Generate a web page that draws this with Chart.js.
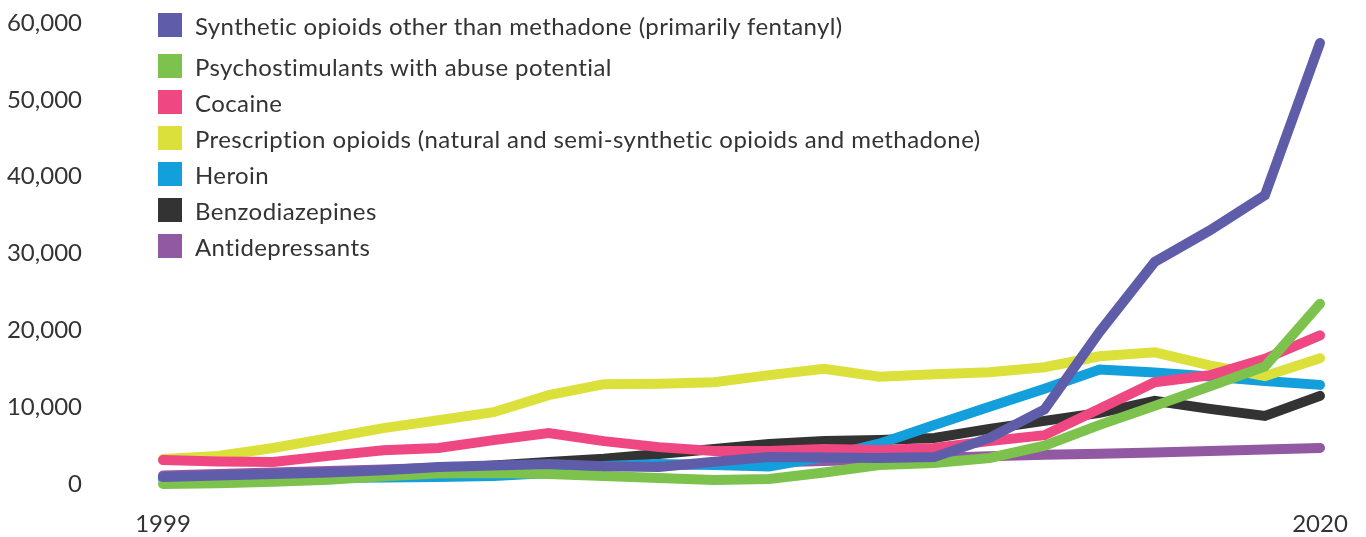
<!DOCTYPE html>
<html>
<head>
<meta charset="utf-8">
<script src="https://cdn.jsdelivr.net/npm/chart.js@4/dist/chart.umd.min.js"></script>
<style>
  body { margin: 0; background: #fff; }
  #wrap { position: relative; width: 1366px; height: 537px; }
  #chart { position: absolute; left: 0; top: 0; }
  #legend { position: absolute; left: 158px; top: 13px; font-family: Lato, sans-serif; font-size: 24px; letter-spacing: 0.4px; color: #333; }
  .item { display: flex; align-items: center; height: 24px; margin-bottom: 12px; white-space: nowrap; }
  .item:first-child { margin-bottom: 17px; }
  .swatch { width: 24px; height: 24px; margin-right: 13px; }
</style>
</head>
<body>
<div id="wrap">
  <canvas id="chart" width="1366" height="537"></canvas>
  <div id="legend"></div>
</div>
<script>
const years = ["1999", "2000", "2001", "2002", "2003", "2004", "2005", "2006", "2007", "2008", "2009",
  "2010", "2011", "2012", "2013", "2014", "2015", "2016", "2017", "2018", "2019", "2020"];

const syntheticOpioids = [910, 1110, 1300, 1500, 1800, 2200, 2400, 2600, 2300, 2200, 2900,
  3500, 3450, 3400, 3500, 6000, 9700, 19800, 28900, 33000, 37600, 57400];
const psychostimulants = [0, 100, 300, 560, 1000, 1370, 1430, 1300, 1040, 780, 520,
  650, 1500, 2480, 2740, 3390, 5000, 7700, 10170, 12720, 15290, 23470];
const cocaine = [3120, 2920, 2860, 3660, 4400, 4680, 5710, 6620, 5580, 4800, 4290,
  4290, 4550, 4420, 4680, 5580, 6360, 9800, 13250, 14150, 16300, 19350];
const prescriptionOpioids = [3250, 3640, 4680, 5970, 7270, 8300, 9350, 11560, 12990, 13050, 13250,
  14170, 15000, 13950, 14280, 14550, 15200, 16620, 17140, 15450, 14030, 16360];
const heroin = [650, 720, 780, 780, 850, 910, 1040, 1430, 2350, 2610, 2480,
  2280, 3520, 5250, 7690, 10040, 12390, 14900, 14500, 14000, 13400, 12900];
const benzodiazepines = [800, 950, 1100, 1300, 1500, 2000, 2400, 2870, 3300, 3910, 4560,
  5220, 5610, 5740, 6000, 7170, 8210, 9260, 10820, 9780, 8870, 11470];
const antidepressants = [1100, 1300, 1500, 1700, 1900, 2100, 2200, 2300, 2300, 2400, 2600,
  2800, 3000, 3200, 3400, 3600, 3800, 3950, 4100, 4300, 4500, 4700];

const yTicks = [0, 10000, 20000, 30000, 40000, 50000, 60000];

const series = [
  { label: "Synthetic opioids other than methadone (primarily fentanyl)", data: syntheticOpioids, color: "#5F5DA9" },
  { label: "Psychostimulants with abuse potential", data: psychostimulants, color: "#7CC24D" },
  { label: "Cocaine", data: cocaine, color: "#EF4782" },
  { label: "Prescription opioids (natural and semi-synthetic opioids and methadone)", data: prescriptionOpioids, color: "#DCE03B" },
  { label: "Heroin", data: heroin, color: "#139FDB" },
  { label: "Benzodiazepines", data: benzodiazepines, color: "#333333" },
  { label: "Antidepressants", data: antidepressants, color: "#9259A3" },
];

const tickFont = { family: "Lato, sans-serif", size: 24 };

const chart = new Chart(document.getElementById("chart"), {
  type: "line",
  data: {
    labels: years,
    datasets: series.map(s => ({
      label: s.label,
      data: s.data,
      borderColor: s.color,
      backgroundColor: s.color,
      borderWidth: 10,
      borderCapStyle: "round",
      borderJoinStyle: "miter",
      pointRadius: 0,
      tension: 0,
      clip: false,
    })),
  },
  options: {
    responsive: false,
    animation: false,
    layout: { padding: { left: 0, right: 46, top: 23, bottom: 0 } },
    plugins: { legend: { display: false }, tooltip: { enabled: false } },
    scales: {
      x: {
        grid: { display: false, drawTicks: false },
        border: { display: false },
        // fixed height, and no extra side padding from the labels
        afterFit: s => { s.height = 53; s.paddingLeft = 0; s.paddingRight = 0; },
        ticks: {
          autoSkip: false,
          maxRotation: 0,
          padding: 26,
          color: "#333",
          font: tickFont,
          callback: (v, i) => (i === 0 || i === years.length - 1) ? years[i] : "",
        },
      },
      y: {
        min: 0,
        max: 60000,
        grid: { display: false, drawTicks: false },
        border: { display: false },
        afterFit: s => { s.width = 163; s.paddingTop = 0; s.paddingBottom = 0; },
        afterBuildTicks: s => { s.ticks = yTicks.map(v => ({ value: v })); },
        ticks: {
          padding: 81,
          color: "#333",
          font: tickFont,
          callback: v => v.toLocaleString("en-US"),
        },
      },
    },
  },
});

// html legend built from the datasets
const legend = document.getElementById("legend");
chart.data.datasets.forEach(ds => {
  const row = document.createElement("div");
  row.className = "item";
  const sw = document.createElement("span");
  sw.className = "swatch";
  sw.style.background = ds.borderColor;
  const txt = document.createElement("span");
  txt.textContent = ds.label;
  row.appendChild(sw);
  row.appendChild(txt);
  legend.appendChild(row);
});
</script>
</body>
</html>
